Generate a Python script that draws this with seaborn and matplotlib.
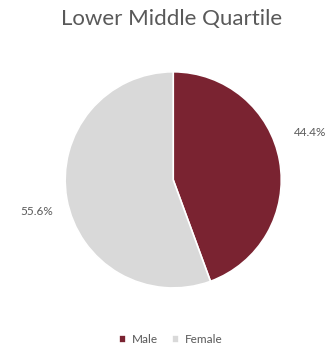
import matplotlib
matplotlib.use("Agg")
import matplotlib.pyplot as plt
import numpy as np
import seaborn as sns

sns.set_theme(style="white")
plt.rcParams["font.family"] = ["Lato", "DejaVu Sans"]

labels = ["Male", "Female"]
shares = [44.4, 55.6]
colors = ["#7A2331", "#D9D9D9"]

fig = plt.figure(figsize=(3.29, 3.52), dpi=100)
ax = fig.add_axes([0.198, 0.182, 0.657, 0.614])

wedges, texts, autotexts = ax.pie(
    shares,
    colors=colors,
    startangle=90,
    counterclock=False,
    autopct="%.1f%%",
    pctdistance=1.33,
    wedgeprops={"linewidth": 1.2, "edgecolor": "white"},
    textprops={"fontsize": 8.5, "color": "#595959"},
)

# nudge the labels the way the office chart places them
label_shift = [(9, 1.34), (3, 1.30)]
for w, t, (dang, dist) in zip(wedges, autotexts, label_shift):
    ang = np.deg2rad((w.theta1 + w.theta2) / 2 + dang)
    t.set_position((dist * np.cos(ang), dist * np.sin(ang)))

ax.set_xlim(-1, 1)
ax.set_ylim(-1, 1)
ax.set_aspect("equal")

fig.text(0.52, 0.945, "Lower Middle Quartile", ha="center", va="center",
         fontsize=16, color="#595959")

fig.legend(wedges, labels, loc="center", bbox_to_anchor=(0.52, 0.035),
           ncol=2, frameon=False, fontsize=8.5, handlelength=0.6,
           handleheight=0.6, columnspacing=1.2, handletextpad=0.5,
           labelcolor="#595959")

fig.savefig("out.png", dpi=100)
